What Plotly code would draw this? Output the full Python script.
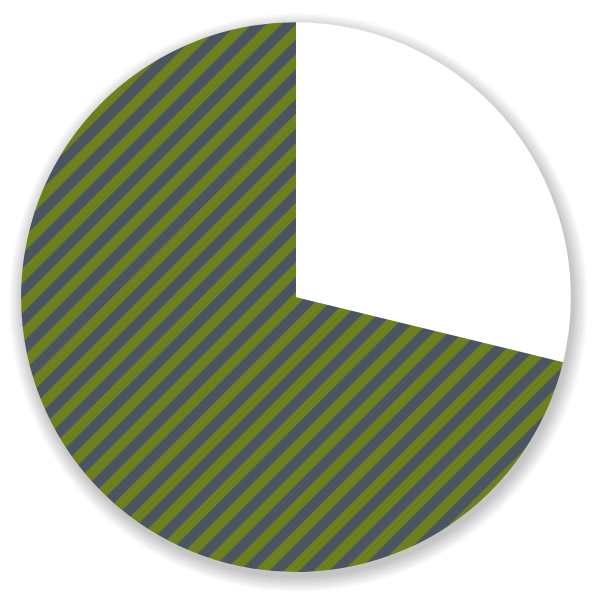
import plotly.graph_objects as go

# two slices: plain white part and striped part (share in %)
labels = ["Blank", "Striped"]
values = [28.8, 71.2]

olive = "rgb(110,128,30)"
slate = "rgb(74,85,97)"

cx, cy, r = 0.484, 0.514, 0.462

fig = go.Figure(go.Pie(
    labels=labels,
    values=values,
    sort=False,
    direction="clockwise",
    rotation=0,
    textinfo="none",
    hoverinfo="label+percent",
    marker=dict(
        colors=["white", olive],
        line=dict(width=0),
        pattern=dict(shape=["", "/"], fgcolor=slate, bgcolor=["white", olive],
                     size=21, solidity=0.5),
    ),
    domain=dict(x=[cx - r, cx + r], y=[cy - r, cy + r]),
    showlegend=False,
))

# soft drop shadow behind the pie
shapes = []
for k in range(12):
    g = k * 0.0022
    shapes.append(dict(
        type="circle", xref="paper", yref="paper", layer="below",
        x0=cx - r - g + 0.004, x1=cx + r + g + 0.004,
        y0=cy - r - g - 0.009, y1=cy + r + g - 0.009,
        fillcolor="rgba(0,0,0,0.02)", line=dict(width=0),
    ))

fig.update_layout(
    width=595, height=595,
    margin=dict(l=0, r=0, t=0, b=0),
    paper_bgcolor="white",
    plot_bgcolor="white",
    shapes=shapes,
)

fig.write_html("out.html")
